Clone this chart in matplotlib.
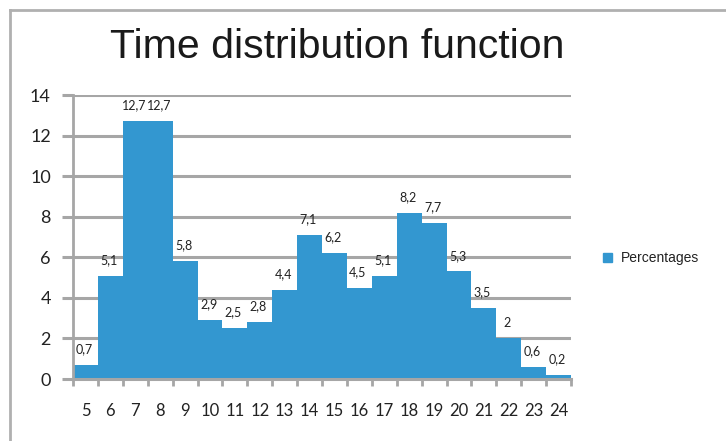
import matplotlib
matplotlib.use("Agg")
import matplotlib.pyplot as plt
from matplotlib.patches import Rectangle
from matplotlib.lines import Line2D

hours = list(range(5, 25))
percentages = [0.7, 5.1, 12.7, 12.7, 5.8, 2.9, 2.5, 2.8, 4.4, 7.1,
               6.2, 4.5, 5.1, 8.2, 7.7, 5.3, 3.5, 2, 0.6, 0.2]
y_ticks = [0, 2, 4, 6, 8, 10, 12, 14]

bar_color = "#3397d0"
grid_color = "#a6a6a6"
W, H = 726, 441

fig = plt.figure(figsize=(W / 100, H / 100), dpi=100)
ax = fig.add_axes([73 / W, (H - 379) / H, (571 - 73) / W, (379 - 95) / H])

# outer frame, only top and left edges show
fig.add_artist(Line2D([10 / W, 1.0], [1 - 10 / H, 1 - 10 / H], color="#b0b0b0", lw=2))
fig.add_artist(Line2D([10 / W, 10 / W], [0.0, 1 - 10 / H], color="#b0b0b0", lw=2))

x = list(range(len(hours)))
ax.bar(x, percentages, width=1.0, color=bar_color, zorder=2)

for xi, v in zip(x, percentages):
    label = ("%g" % v).replace(".", ",")
    ax.annotate(label, (xi, v), xytext=(-1, 7), textcoords="offset points",
                ha="center", va="bottom", fontsize=9, family="Lato",
                color="#222222")

ax.set_xlim(-0.5, len(hours) - 0.5)
ax.set_ylim(0, 14)
ax.set_yticks(y_ticks)
ax.set_yticklabels([str(t) for t in y_ticks], family="Lato", fontsize=13,
                   color="#222222")
ax.yaxis.grid(True, color=grid_color, lw=2.2, zorder=0)
ax.set_axisbelow(True)
ax.tick_params(axis="y", length=8, width=2.2, color=grid_color, pad=8)

ax.set_xticks([i - 0.5 for i in x] + [len(hours) - 0.5])
ax.set_xticklabels([])
ax.set_xticks(x, minor=True)
ax.set_xticklabels([str(h) for h in hours], minor=True, family="Lato",
                   fontsize=12, color="#222222")
ax.tick_params(axis="x", which="major", length=5, width=2, color=grid_color)
ax.tick_params(axis="x", which="minor", length=0, pad=17)

for side in ["top", "right"]:
    ax.spines[side].set_visible(False)
ax.spines["left"].set_color(grid_color)
ax.spines["left"].set_linewidth(2)
ax.spines["bottom"].set_color(grid_color)
ax.spines["bottom"].set_linewidth(2.2)

fig.text(337 / W, 1 - 47 / H, "Time distribution function", ha="center",
         va="center", fontsize=29.5, family="Liberation Sans", color="#1a1a1a")

# legend
fig.add_artist(Rectangle((603 / W, 1 - 262 / H), 9 / W, 9 / H,
                         transform=fig.transFigure, color=bar_color))
fig.text(621 / W, 1 - 258 / H, "Percentages", ha="left", va="center",
         fontsize=10, family="Liberation Sans", color="#222222")

fig.savefig("out.png", dpi=100)
